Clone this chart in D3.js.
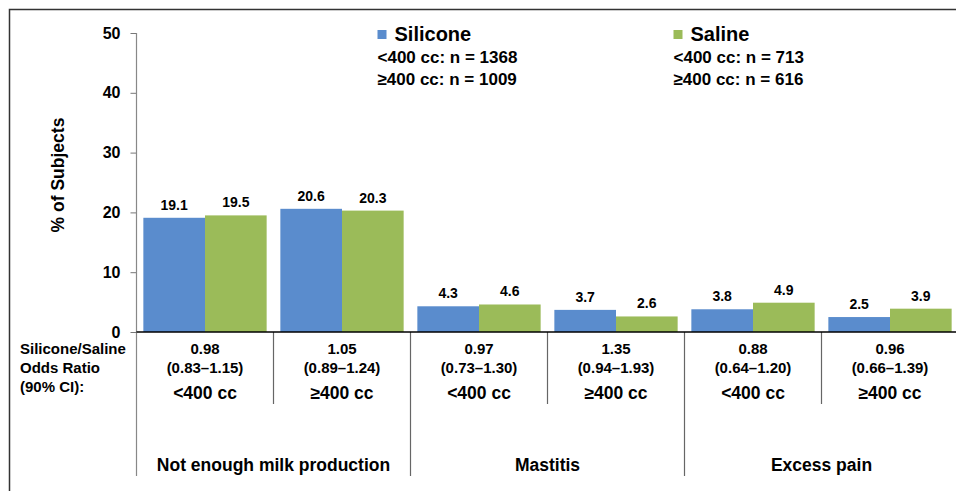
<!DOCTYPE html>
<html>
<head>
<meta charset="utf-8">
<script src="https://cdn.jsdelivr.net/npm/d3@7"></script>
<style>
  body { margin: 0; background: #fff; }
  svg { display: block; font-family: "Liberation Sans", Arial, sans-serif; font-weight: bold; }
</style>
</head>
<body>
<script>
const w = 956;
const h = 491;

// data
const groups = ["Not enough milk production", "Mastitis", "Excess pain"];
const sizes = ["<400 cc", "\u2265400 cc"];
const silicone = [19.1, 20.6, 4.3, 3.7, 3.8, 2.5];
const saline = [19.5, 20.3, 4.6, 2.6, 4.9, 3.9];
const oddsRatio = ["0.98", "1.05", "0.97", "1.35", "0.88", "0.96"];
const oddsCI = ["(0.83\u20131.15)", "(0.89\u20131.24)", "(0.73\u20131.30)", "(0.94\u20131.93)", "(0.64\u20131.20)", "(0.66\u20131.39)"];
const yTicks = [0, 10, 20, 30, 40, 50];
const seriesNames = ["Silicone", "Saline"];
const seriesN = [["<400 cc: n = 1368", "\u2265400 cc: n = 1009"], ["<400 cc: n = 713", "\u2265400 cc: n = 616"]];

const colors = ["#5A8CCD", "#9BBB59"];

const m = { top: 33, left: 136.5, bottom: 332, right: 958.5 };

// one slot per group x size
const slots = [];
groups.forEach((g, gi) => sizes.forEach((s, si) => slots.push({ g: g, s: s, i: gi * sizes.length + si })));

const svg = d3.select("body").append("svg")
  .attr("width", w)
  .attr("height", h);

// outer frame
svg.append("path")
  .attr("d", "M9.5," + h + "V9.5H" + w)
  .attr("fill", "none")
  .attr("stroke", "#333")
  .attr("stroke-width", 1.5);

const x0 = d3.scaleBand()
  .domain(slots.map(d => d.i))
  .range([m.left, m.right])
  .paddingInner(0.1)
  .paddingOuter(0.05);

const x1 = d3.scaleBand()
  .domain([0, 1])
  .range([0, x0.bandwidth()]);

const y = d3.scaleLinear()
  .domain([0, 50])
  .range([m.bottom, m.top]);

// y axis
const yAxis = d3.axisLeft(y)
  .tickValues(yTicks)
  .tickSize(6)
  .tickPadding(10);

const ya = svg.append("g")
  .attr("transform", "translate(" + m.left + ",0)")
  .call(yAxis);
ya.select(".domain").remove();
ya.selectAll(".tick line").attr("stroke", "#777");
ya.selectAll("text")
  .attr("font-size", 16)
  .attr("font-weight", "bold")
  .attr("font-family", "Liberation Sans, Arial, sans-serif")
  .attr("fill", "#000");

const step = x0.step();

// y axis line extended to bottom
svg.append("line")
  .attr("x1", m.left).attr("x2", m.left)
  .attr("y1", m.top).attr("y2", 476)
  .attr("stroke", "#888")
  .attr("stroke-width", 1.2);

// separators between slots
d3.range(1, slots.length).forEach(k => {
  const xs = m.left + k * step;
  svg.append("line")
    .attr("x1", xs).attr("x2", xs)
    .attr("y1", m.bottom).attr("y2", k % sizes.length === 0 ? 476 : 404)
    .attr("stroke", "#666")
    .attr("stroke-width", 1.2);
});

// bars
const series = [silicone, saline];
series.forEach((vals, si) => {
  svg.append("g").selectAll("rect")
    .data(slots)
    .enter()
    .append("rect")
    .attr("x", d => x0(d.i) + x1(si))
    .attr("y", d => y(vals[d.i]))
    .attr("width", x1.bandwidth())
    .attr("height", d => y(0) - y(vals[d.i]))
    .attr("fill", colors[si]);

  svg.append("g").selectAll("text")
    .data(slots)
    .enter()
    .append("text")
    .attr("x", d => x0(d.i) + x1(si) + x1.bandwidth() / 2)
    .attr("y", d => y(vals[d.i]) - 8)
    .attr("text-anchor", "middle")
    .attr("font-size", 14)
    .text(d => vals[d.i].toFixed(1));
});

// x axis line
svg.append("line")
  .attr("x1", m.left).attr("x2", m.right)
  .attr("y1", y(0)).attr("y2", y(0))
  .attr("stroke", "#000")
  .attr("stroke-width", 1.5);

// odds ratio rows
const cx = d => x0(d.i) + x0.bandwidth() / 2;
const rows = svg.append("g").selectAll("g")
  .data(slots)
  .enter()
  .append("g");
rows.append("text").attr("x", cx).attr("y", 354).attr("text-anchor", "middle").attr("font-size", 15)
  .text(d => oddsRatio[d.i]);
rows.append("text").attr("x", cx).attr("y", 373).attr("text-anchor", "middle").attr("font-size", 15)
  .text(d => oddsCI[d.i]);
rows.append("text").attr("x", cx).attr("y", 399).attr("text-anchor", "middle").attr("font-size", 17.5)
  .text(d => d.s);

// group labels
svg.append("g").selectAll("text")
  .data(groups)
  .enter()
  .append("text")
  .attr("x", (d, gi) => m.left + (gi + 0.5) * sizes.length * step)
  .attr("y", 471)
  .attr("text-anchor", "middle")
  .attr("font-size", 17.5)
  .text(d => d);

// row header
svg.append("text")
  .attr("x", 20)
  .attr("font-size", 15)
  .selectAll("tspan")
  .data(["Silicone/Saline", "Odds Ratio", "(90% CI):"])
  .enter()
  .append("tspan")
  .attr("x", 20)
  .attr("y", (d, i) => [354, 373, 392][i])
  .text(d => d);

// y title
svg.append("text")
  .attr("transform", "translate(64,175) rotate(-90)")
  .attr("text-anchor", "middle")
  .attr("font-size", 17.5)
  .text("% of Subjects");

// legend
const legendX = [377.5, 673.5];
const lg = svg.append("g").selectAll("g")
  .data(seriesNames)
  .enter()
  .append("g")
  .attr("transform", (d, i) => "translate(" + legendX[i] + ",0)");
lg.append("rect")
  .attr("x", 0).attr("y", 30)
  .attr("width", 9).attr("height", 9)
  .attr("fill", (d, i) => colors[i]);
lg.append("text")
  .attr("x", 17).attr("y", 41)
  .attr("font-size", 20)
  .text(d => d);
lg.append("text")
  .attr("font-size", 17)
  .selectAll("tspan")
  .data((d, i) => seriesN[i])
  .enter()
  .append("tspan")
  .attr("x", 0)
  .attr("y", (d, i) => 63 + i * 22)
  .text(d => d);
</script>
</body>
</html>
